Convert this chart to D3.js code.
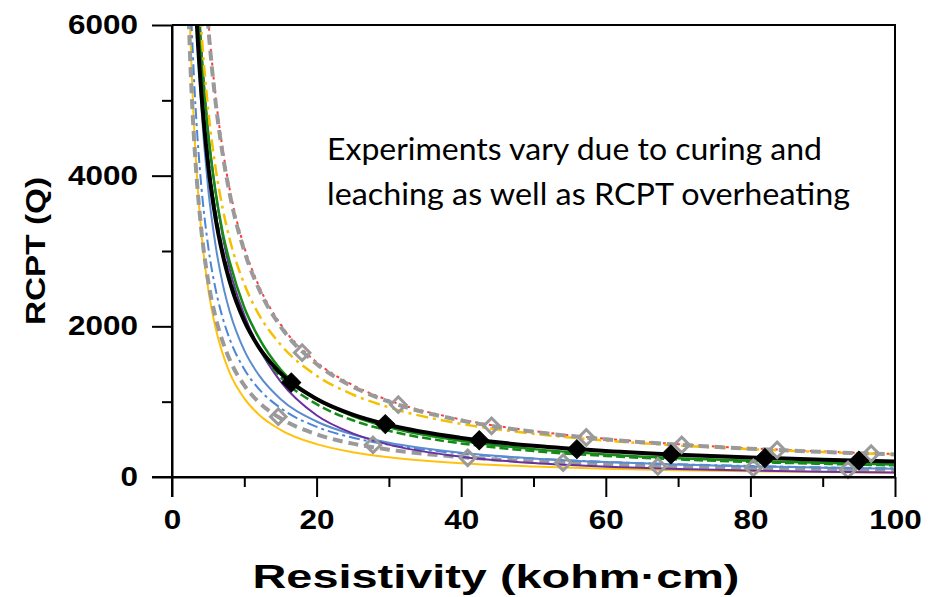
<!DOCTYPE html>
<html>
<head>
  <meta charset="utf-8" />
  <title>RCPT vs Resistivity</title>
  <style type="text/css">
    body { margin: 0; background: #fff; }
    svg text { font-family: 'Liberation Sans', Arial, sans-serif; }
  </style>
</head>
<body>
  <div id="graph"></div>

  <script src="https://cdn.jsdelivr.net/npm/d3@7/dist/d3.min.js"></script>
  <script>
var xs = [2, 2.5, 3, 3.5, 4, 5, 6, 7, 8, 10, 12, 15, 20, 25, 30, 40, 50, 60, 70, 80, 90, 100];

// RCPT charge (Q) read for each curve at the xs above
var upperGray     = [15000, 12000, 10000, 8570, 7500, 6000, 5000, 4290, 3750, 3000, 2500, 2000, 1500, 1200, 1000, 750, 600, 500, 430, 375, 333, 300];
var redDotted     = [15250, 12200, 10170, 8710, 7630, 6100, 5080, 4360, 3810, 3050, 2540, 2030, 1525, 1220, 1017, 763, 610, 508, 436, 381, 339, 305];
var yellowDashDot = [11440, 9300, 7850, 6800, 6010, 4880, 4120, 3570, 3150, 2560, 2160, 1760, 1345, 1095, 924, 705, 574, 483, 418, 370, 331, 301];
var blackFit      = [10350, 8280, 6900, 5910, 5175, 4140, 3450, 2960, 2590, 2070, 1725, 1380, 1035, 828, 690, 518, 414, 345, 296, 259, 230, 207];
var greenSolid    = [11400, 9100, 7600, 6500, 5700, 4550, 3800, 3250, 2850, 2250, 1850, 1430, 1040, 810, 660, 480, 370, 300, 250, 215, 188, 166];
var greenDashed   = [10600, 8460, 7070, 6050, 5300, 4230, 3530, 3020, 2650, 2090, 1720, 1330, 967, 753, 614, 446, 344, 279, 233, 200, 175, 154];
var purpleFit     = [12000, 9500, 7900, 6700, 5800, 4600, 3800, 3200, 2750, 2150, 1720, 1270, 820, 580, 430, 270, 185, 137, 106, 85, 70, 59];
var blueSolid     = [11400, 8740, 7030, 5860, 5000, 3830, 3090, 2570, 2190, 1680, 1355, 1036, 737, 565, 455, 323, 247, 199, 166, 141, 123, 108];
var blueDashDot   = [8400, 6570, 5380, 4540, 3920, 3065, 2507, 2115, 1827, 1430, 1170, 916, 667, 522, 428, 311, 244, 200, 169, 146, 128, 114];
var lowerGray     = [7140, 5590, 4570, 3860, 3330, 2605, 2130, 1800, 1553, 1215, 994, 779, 567, 443, 363, 265, 207, 170, 144, 124, 109, 97];
var yellowSolid   = [7930, 5980, 4760, 3920, 3310, 2500, 1990, 1640, 1380, 1044, 830, 627, 436, 329, 262, 182, 138, 109, 90, 76, 65, 57];

// marker points
var blackDiamondX = [16.5, 29.5, 42.5, 56, 69, 82, 95];
var blackDiamondQ = [1255, 702, 487, 370, 300, 252, 218];
var upperDiamondX = [18, 31.3, 44.2, 57.3, 70.5, 83.7, 96.7];
var upperDiamondQ = [1650, 960, 680, 525, 425, 360, 310];
var lowerDiamondX = [14.7, 27.8, 40.9, 54.1, 67.2, 80.4, 93.5];
var lowerDiamondQ = [800, 425, 255, 190, 140, 120, 95];

var xMajor = [0, 20, 40, 60, 80, 100];
var xMinor = [10, 30, 50, 70, 90];
var yMajor = [0, 2000, 4000, 6000];
var yMinor = [1000, 3000, 5000];

var note = ["Experiments vary due to curing and", "leaching as well as RCPT overheating"];

var margin = {top: 25, right: 45, bottom: 120, left: 172},
    width = 940 - margin.left - margin.right,
    height = 597 - margin.top - margin.bottom;

var x = d3.scaleLinear().domain([0, 100]).range([0, width]);
var y = d3.scaleLinear().domain([0, 6000]).range([height, 0]);

var svg = d3.select("#graph").append("svg")
    .attr("width", 940)
    .attr("height", 597)
  .append("g")
    .attr("transform", "translate(" + margin.left + "," + margin.top + ")");

svg.append("clipPath").attr("id", "plot")
  .append("rect").attr("width", width).attr("height", height);

var line = d3.line()
    .x(function(d) { return x(d[0]); })
    .y(function(d) { return y(d[1]); })
    .curve(d3.curveMonotoneX);

var curves = [
  {v: yellowSolid,   color: "#ffc20e", w: 2,   dash: null},
  {v: lowerGray,     color: "#9a9a9a", w: 4,   dash: "10,6"},
  {v: blueDashDot,   color: "#4a86d6", w: 2,   dash: "11,4,3,4"},
  {v: blueSolid,     color: "#5a8ccf", w: 2,   dash: null},
  {v: purpleFit,     color: "#6a2fa0", w: 2,   dash: null},
  {v: greenDashed,   color: "#168a16", w: 2.5, dash: "9,4"},
  {v: greenSolid,    color: "#168a16", w: 2.5, dash: null},
  {v: redDotted,     color: "#ff3b3b", w: 2,   dash: "3,4"},
  {v: yellowDashDot, color: "#f5c000", w: 2.5, dash: "12,5,3,5"},
  {v: upperGray,     color: "#9a9a9a", w: 4,   dash: "10,6"},
  {v: blackFit,      color: "#000000", w: 4,   dash: null}
];

var plot = svg.append("g").attr("clip-path", "url(#plot)");

plot.selectAll("path.curve")
    .data(curves)
  .enter().append("path")
    .attr("class", "curve")
    .attr("fill", "none")
    .attr("stroke", function(d) { return d.color; })
    .attr("stroke-width", function(d) { return d.w; })
    .attr("stroke-dasharray", function(d) { return d.dash; })
    .attr("d", function(d) { return line(xs.map(function(r, i) { return [r, d.v[i]]; })); });

// diamonds = squares turned 45 degrees
var square = d3.symbol().type(d3.symbolSquare);

function markers(xv, qv, size, fill, stroke, sw) {
  svg.append("g").selectAll("path")
      .data(xv.map(function(r, i) { return [r, qv[i]]; }))
    .enter().append("path")
      .attr("d", square.size(size)())
      .attr("transform", function(d) { return "translate(" + x(d[0]) + "," + y(d[1]) + ") rotate(45)"; })
      .attr("fill", fill)
      .attr("stroke", stroke)
      .attr("stroke-width", sw);
}
markers(upperDiamondX, upperDiamondQ, 120, "none", "#9a9a9a", 3);
markers(lowerDiamondX, lowerDiamondQ, 120, "none", "#9a9a9a", 3);
markers(blackDiamondX, blackDiamondQ, 180, "#000", "#000", 1);

// frame (top and right)
svg.append("path")
    .attr("d", "M0,0H" + width + "V" + height)
    .attr("fill", "none").attr("stroke", "#000").attr("stroke-width", 2);

// axes
function styleAxis(g) {
  g.selectAll("path.domain").attr("stroke", "#000").attr("stroke-width", 2);
  g.selectAll(".tick line").attr("stroke", "#000").attr("stroke-width", 2);
}

svg.append("g")
    .attr("transform", "translate(0," + height + ")")
    .call(d3.axisBottom(x).tickValues(xMinor).tickSize(10).tickSizeOuter(0).tickFormat(""))
    .call(styleAxis);
var xAxis = svg.append("g")
    .attr("transform", "translate(0," + height + ")")
    .call(d3.axisBottom(x).tickValues(xMajor).tickSize(20).tickSizeOuter(0).tickPadding(13).tickFormat(d3.format("d")))
    .call(styleAxis);
xAxis.select("path.domain").attr("d", "M-20,0H" + width);

svg.append("g")
    .call(d3.axisLeft(y).tickValues(yMinor).tickSize(10).tickSizeOuter(0).tickFormat(""))
    .call(styleAxis);
var yAxis = svg.append("g")
    .call(d3.axisLeft(y).tickValues(yMajor).tickSize(20).tickSizeOuter(0).tickPadding(14).tickFormat(d3.format("d")))
    .call(styleAxis);
yAxis.select("path.domain").attr("d", "M0,0V" + (height + 20));

[xAxis, yAxis].forEach(function(a) {
  a.selectAll(".tick text")
      .attr("fill", "#000")
      .style("font-size", "27px")
      .style("font-weight", "bold")
      .attr("textLength", function(d) { return String(d).length * 17.5; })
      .attr("lengthAdjust", "spacingAndGlyphs");
});

// axis titles
svg.append("text")
    .attr("x", 496 - margin.left)
    .attr("y", 588 - margin.top)
    .attr("text-anchor", "middle")
    .style("font-size", "33px")
    .style("font-weight", "bold")
    .attr("textLength", 487)
    .attr("lengthAdjust", "spacingAndGlyphs")
    .text("Resistivity (kohm\u00b7cm)");

svg.append("text")
    .attr("transform", "translate(" + (45 - margin.left) + "," + (251 - margin.top) + ") rotate(-90)")
    .attr("text-anchor", "middle")
    .style("font-size", "28px")
    .style("font-weight", "bold")
    .attr("textLength", 148)
    .attr("lengthAdjust", "spacingAndGlyphs")
    .text("RCPT (Q)");

// annotation
svg.selectAll("text.note")
    .data(note)
  .enter().append("text")
    .attr("class", "note")
    .attr("x", 327 - margin.left)
    .attr("y", function(d, i) { return 160 - margin.top + i * 45; })
    .style("font-family", "Lato, 'Open Sans', sans-serif")
    .style("font-size", "30px")
    .attr("textLength", function(d, i) { return i === 0 ? 495 : 523; })
    .attr("lengthAdjust", "spacingAndGlyphs")
    .text(function(d) { return d; });
</script>
</body>
</html>
